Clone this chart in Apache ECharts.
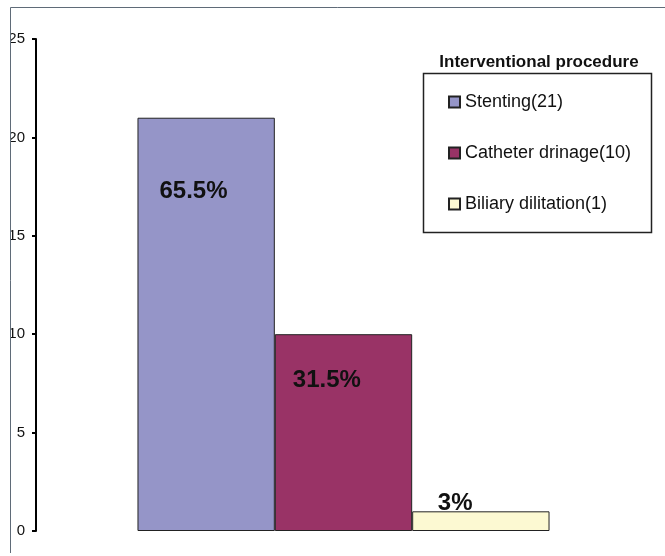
<!DOCTYPE html>
<html>
<head>
<meta charset="utf-8">
<script src="https://cdn.jsdelivr.net/npm/echarts@6/dist/echarts.min.js"></script>
<style>html,body{margin:0;padding:0;background:#fff;}#c{width:665px;height:556px;}</style>
</head>
<body>
<div id="c"></div>
<script>
var categories = [''];
var seriesNames = ['Stenting(21)', 'Catheter drinage(10)', 'Biliary dilitation(1)'];
var seriesValues = [21, 10, 1];
var seriesLabels = ['65.5%', '31.5%', '3%'];
var legendTitle = 'Interventional procedure';
var yTicks = { min: 0, max: 25, interval: 5 };

var colors = ['#9595C8', '#993366', '#FCF9D2'];
var labelPos = [[56, 74], [52, 46], [43, -8]];

var chart = echarts.init(document.getElementById('c'), null, { renderer: 'canvas' });
var series = seriesNames.map(function (n, i) {
  return {
    name: n,
    type: 'bar',
    data: [seriesValues[i]],
    barGap: '0%',
    barCategoryGap: '33%',
    itemStyle: { color: colors[i], borderColor: '#222', borderWidth: 1 },
    label: {
      show: true,
      formatter: seriesLabels[i],
      position: labelPos[i],
      align: 'center',
      verticalAlign: 'middle',
      fontFamily: 'Liberation Sans',
      fontWeight: 'bold',
      fontSize: 24,
      color: '#111'
    }
  };
});

chart.setOption({
  animation: false,
  backgroundColor: '#fff',
  grid: { left: 36, right: 14, top: 39, bottom: 25 },
  xAxis: {
    type: 'category',
    data: categories,
    axisLine: { show: false },
    axisTick: { show: false },
    axisLabel: { show: false }
  },
  yAxis: {
    type: 'value',
    min: yTicks.min, max: yTicks.max, interval: yTicks.interval,
    axisLine: { show: true, lineStyle: { color: '#000', width: 2 } },
    axisTick: { show: true, length: 4, lineStyle: { color: '#000', width: 2 } },
    axisLabel: { margin: 11, fontFamily: 'Liberation Sans', fontSize: 15, color: '#111' },
    splitLine: { show: false }
  },
  legend: {
    orient: 'vertical',
    left: 448,
    top: 93,
    padding: 0,
    itemWidth: 11,
    itemHeight: 11,
    itemGap: 33,
    icon: 'rect',
    textStyle: { fontFamily: 'Liberation Sans', fontSize: 18, color: '#111' },
    data: seriesNames
  },
  graphic: [
    { type: 'rect', z: 100, shape: { x: 0, y: 0, width: 10, height: 556 }, style: { fill: '#fff' } },
    { type: 'line', z: 101, shape: { x1: 10.5, y1: 7.5, x2: 665, y2: 7.5 }, style: { stroke: '#5f6b78', lineWidth: 1 } },
    { type: 'line', z: 101, shape: { x1: 10.5, y1: 7.5, x2: 10.5, y2: 553 }, style: { stroke: '#5f6b78', lineWidth: 1 } },
    { type: 'rect', z: 50, shape: { x: 423.5, y: 73.5, width: 228, height: 159 }, style: { fill: 'none', stroke: '#222', lineWidth: 1.5 } },
    { type: 'text', z: 50, x: 539, y: 62, style: { text: legendTitle, textAlign: 'center', textVerticalAlign: 'middle', fontFamily: 'Liberation Sans', fontWeight: 'bold', fontSize: 17, fill: '#111' } }
  ],
  series: series
});
</script>
</body>
</html>
